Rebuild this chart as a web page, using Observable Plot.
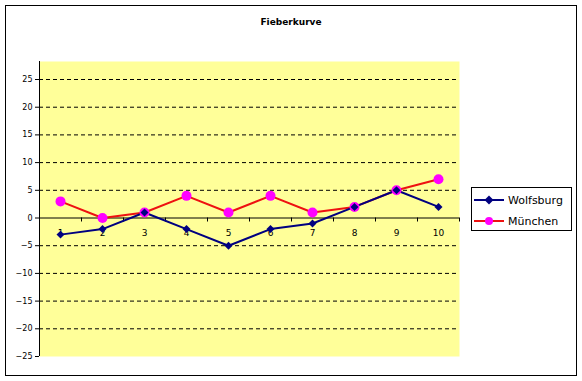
<!DOCTYPE html>
<html><head><meta charset="utf-8">
<script src="https://cdn.jsdelivr.net/npm/d3@7"></script>
<script src="https://cdn.jsdelivr.net/npm/@observablehq/plot@0.6"></script>
<style>
body{margin:0;background:#fff;}
#chart{position:relative;width:582px;height:381px;font-family:"DejaVu Sans",sans-serif;overflow:hidden;}
#chart svg.plot{position:absolute;left:0;top:0;}
#border{position:absolute;left:5px;top:5px;width:570px;height:369px;border:1px solid #000;pointer-events:none;}
#title{position:absolute;left:0;width:582px;top:15px;text-align:center;font-weight:bold;font-size:9px;line-height:14px;color:#000;}
#legend{position:absolute;left:471px;top:187px;width:99px;height:42px;border:1px solid #000;background:#fff;font-size:11px;}
#legend .row{position:absolute;left:2px;height:16px;display:flex;align-items:center;}
#legend .row span{margin-left:4px;}
</style></head>
<body>
<div id="chart">
  <div id="border"></div>
  <div id="title">Fieberkurve</div>
  <div id="legend"></div>
</div>
<script>
const days = [1, 2, 3, 4, 5, 6, 7, 8, 9, 10];
const wolfsburg = [-3, -2, 1, -2, -5, -2, -1, 2, 5, 2];
const muenchen = [3, 0, 1, 4, 1, 4, 1, 2, 5, 7];
const yTicks = [-25, -20, -15, -10, -5, 0, 5, 10, 15, 20, 25];
const seriesNames = ["Wolfsburg", "München"];
const title = "Fieberkurve";

const navy = "#000080", red = "#ee1111", magenta = "#ff00ff";

const wData = days.map((d, i) => ({day: d, v: wolfsburg[i]}));
const mData = days.map((d, i) => ({day: d, v: muenchen[i]}));
const bounds = days.map(d => d + 0.5);
const xMin = d3.min(days) - 0.5, xMax = d3.max(days) + 0.5;

const plot = Plot.plot({
  width: 582,
  height: 381,
  marginLeft: 39,
  marginRight: 123,
  marginTop: 61,
  marginBottom: 25,
  style: {fontFamily: "DejaVu Sans, sans-serif", fontSize: "8px", color: "#000", background: "transparent", overflow: "visible"},
  x: {type: "linear", domain: [xMin, xMax], axis: null, label: null},
  y: {domain: [-25, 28.25], axis: null, label: null},
  marks: [
    Plot.frame({fill: "#ffff99", stroke: "none"}),
    Plot.ruleY(yTicks.filter(t => t !== 0 && t !== -25), {stroke: "#000", strokeWidth: 1, strokeDasharray: "4,3"}),
    Plot.ruleX([xMin], {stroke: "#000", strokeWidth: 1}),
    Plot.ruleY([0], {stroke: "#000", strokeWidth: 1}),
    Plot.ruleX(bounds, {x: d => d, y1: 0, y2: 0, insetBottom: -4, stroke: "#000"}),
    Plot.axisY(yTicks, {tickSize: 4, tickPadding: 3, fontSize: 8, anchor: "left", label: null}),
    Plot.text(days, {x: d => d, y: 0, dy: 15, text: d => String(d), fontSize: 9, fill: "#000"}),
    Plot.line(mData, {x: "day", y: "v", stroke: red, strokeWidth: 2}),
    Plot.line(wData, {x: "day", y: "v", stroke: navy, strokeWidth: 2}),
    Plot.dot(mData, {x: "day", y: "v", fill: magenta, r: 5, symbol: "circle"}),
    Plot.dot(wData, {x: "day", y: "v", fill: navy, r: 3.6, symbol: "diamond2"})
  ]
});
plot.classList.add("plot");
const chart = document.getElementById("chart");
chart.insertBefore(plot, chart.firstChild);
document.getElementById("title").textContent = title;

const legend = document.getElementById("legend");
const styles = [
  {stroke: navy, marker: `<path d="M15,3.5 L19.5,8 L15,12.5 L10.5,8 Z" fill="${navy}"/>`},
  {stroke: red, marker: `<circle cx="15" cy="8" r="4" fill="${magenta}"/>`}
];
seriesNames.forEach((name, i) => {
  const row = document.createElement("div");
  row.className = "row";
  row.style.top = (4 + i * 21) + "px";
  row.innerHTML = `<svg width="30" height="16"><line x1="0" y1="8" x2="30" y2="8" stroke="${styles[i].stroke}" stroke-width="2"/>${styles[i].marker}</svg><span>${name}</span>`;
  legend.appendChild(row);
});
</script>
</body></html>
